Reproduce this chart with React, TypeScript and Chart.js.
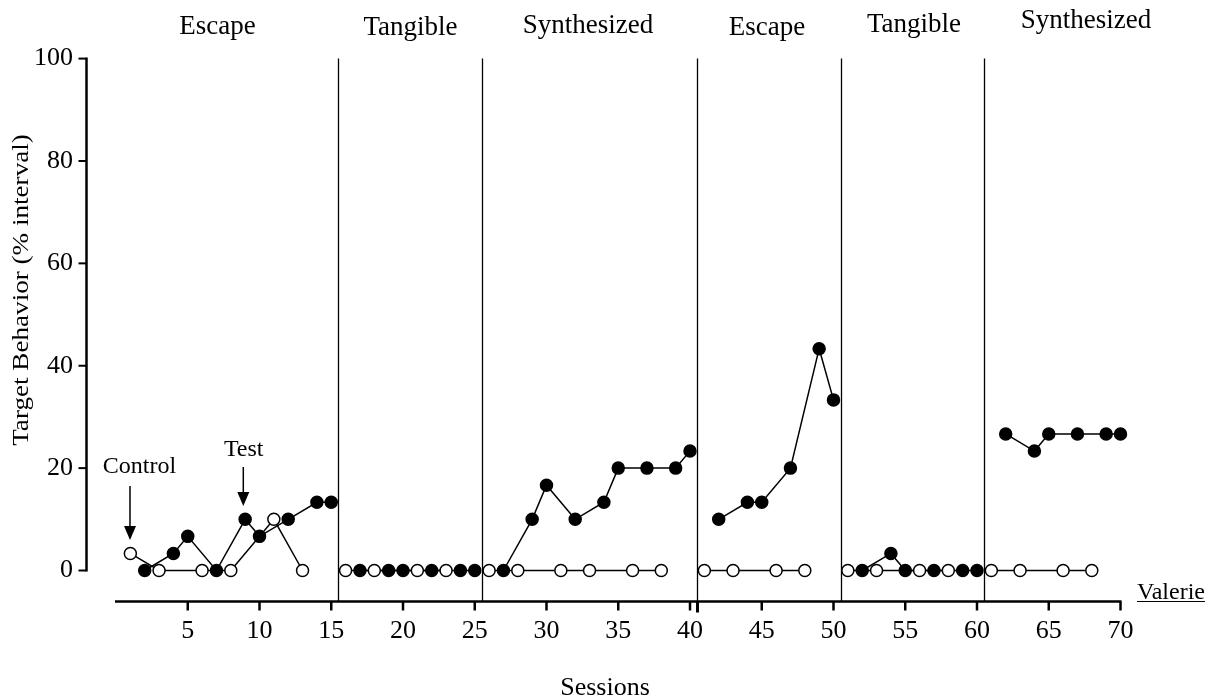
import React, { useEffect, useRef } from 'react';
import { Chart, registerables } from 'chart.js';

Chart.register(...registerables);

// ---- data ----
const phaseBreaks = [15.5, 25.5, 40.5, 50.5, 60.5];
const phaseLabels = ['Escape', 'Tangible', 'Synthesized', 'Escape', 'Tangible', 'Synthesized'];

const controlSessions = [1, 3, 6, 8, 11, 13, 16, 18, 21, 23, 26, 28, 31, 33, 36, 38, 41, 43, 46, 48, 51, 53, 56, 58, 61, 63, 66, 68];
const controlValues = [3.33, 0, 0, 0, 10, 0, 0, 0, 0, 0, 0, 0, 0, 0, 0, 0, 0, 0, 0, 0, 0, 0, 0, 0, 0, 0, 0, 0];

const testSessions = [2, 4, 5, 7, 9, 10, 12, 14, 15, 17, 19, 20, 22, 24, 25, 27, 29, 30, 32, 34, 35, 37, 39, 40, 42, 44, 45, 47, 49, 50, 52, 54, 55, 57, 59, 60, 62, 64, 65, 67, 69, 70];
const testValues = [0, 3.33, 6.67, 0, 10, 6.67, 10, 13.33, 13.33, 0, 0, 0, 0, 0, 0, 0, 10, 16.67, 10, 13.33, 20, 20, 20, 23.33, 10, 13.33, 13.33, 20, 43.33, 33.33, 0, 3.33, 0, 0, 0, 0, 26.67, 23.33, 26.67, 26.67, 26.67, 26.67];

const xTickStep = 5;
const yTickStep = 20;

const FONT = "'Liberation Serif', 'Times New Roman', serif";

function buildSeries(sessions: number[], values: number[]) {
  const out: { x: number; y: number | null }[] = [];
  for (let i = 0; i < sessions.length; i++) {
    if (i > 0) {
      const brk = phaseBreaks.find((b) => b > sessions[i - 1] && b < sessions[i]);
      if (brk !== undefined) out.push({ x: brk, y: null });
    }
    out.push({ x: sessions[i], y: values[i] });
  }
  return out;
}

// layout of annotation text (pixels)
const phaseLabelLayout = [
  { cx: 217.5, base: 34 },
  { cx: 410.5, base: 35 },
  { cx: 588, base: 33 },
  { cx: 767, base: 35 },
  { cx: 914, base: 32 },
  { cx: 1086, base: 28 },
];

const decorPlugin = {
  id: 'decor',
  beforeDatasetsDraw(chart: any) {
    const { ctx, chartArea, scales } = chart;
    const xs = scales.x;
    const ys = scales.y;
    const axisY = chartArea.bottom + 31;
    ctx.save();
    ctx.strokeStyle = '#000';
    ctx.lineWidth = 1.3;
    phaseBreaks.forEach((b) => {
      const px = Math.round(xs.getPixelForValue(b)) + 0.5;
      ctx.beginPath();
      ctx.moveTo(px, ys.getPixelForValue(100));
      ctx.lineTo(px, axisY);
      ctx.stroke();
    });
    ctx.restore();
  },
  afterDraw(chart: any) {
    const { ctx, chartArea, scales } = chart;
    const xs = scales.x;
    const ys = scales.y;
    const axisY = chartArea.bottom + 31;
    const axisX = chartArea.left - 29.5;
    ctx.save();
    ctx.strokeStyle = '#000';
    ctx.fillStyle = '#000';
    ctx.lineCap = 'butt';

    // y axis
    ctx.lineWidth = 2.5;
    ctx.beginPath();
    ctx.moveTo(axisX, ys.getPixelForValue(100) - 1);
    ctx.lineTo(axisX, ys.getPixelForValue(0) + 1);
    ctx.stroke();
    ys.ticks.forEach((t: any) => {
      const py = ys.getPixelForValue(t.value);
      ctx.lineWidth = 2;
      ctx.beginPath();
      ctx.moveTo(axisX - 8, py);
      ctx.lineTo(axisX, py);
      ctx.stroke();
    });

    // x axis
    ctx.lineWidth = 2.5;
    ctx.beginPath();
    ctx.moveTo(xs.getPixelForValue(0) - 1, axisY);
    ctx.lineTo(xs.getPixelForValue(70) + 1, axisY);
    ctx.stroke();
    xs.ticks.forEach((t: any) => {
      if (t.value === 0) return;
      const px = xs.getPixelForValue(t.value);
      ctx.lineWidth = 2.5;
      ctx.beginPath();
      ctx.moveTo(px, axisY);
      ctx.lineTo(px, axisY + 9);
      ctx.stroke();
    });
    // extension of the 40.5 phase line below the axis
    const p40 = Math.round(xs.getPixelForValue(phaseBreaks[2])) + 0.5;
    ctx.lineWidth = 3;
    ctx.beginPath();
    ctx.moveTo(p40, axisY);
    ctx.lineTo(p40, axisY + 11);
    ctx.stroke();

    // phase labels
    ctx.font = `27px ${FONT}`;
    ctx.textAlign = 'center';
    ctx.textBaseline = 'alphabetic';
    phaseLabels.forEach((lab, i) => {
      const l = phaseLabelLayout[i];
      ctx.fillText(lab, l.cx, l.base);
    });

    // y axis title
    ctx.save();
    ctx.font = `24px ${FONT}`;
    ctx.translate(27.5, 290);
    ctx.rotate(-Math.PI / 2);
    ctx.scale(1.13, 1);
    ctx.textAlign = 'center';
    ctx.fillText('Target Behavior (% interval)', 0, 0);
    ctx.restore();

    // x axis title
    ctx.font = `26px ${FONT}`;
    ctx.textAlign = 'center';
    ctx.fillText('Sessions', 605, 695);

    // Valerie
    ctx.font = `24px ${FONT}`;
    ctx.textAlign = 'left';
    ctx.fillText('Valerie', 1137, 599);
    const vw = ctx.measureText('Valerie').width;
    ctx.lineWidth = 1;
    ctx.beginPath();
    ctx.moveTo(1137, 601.5);
    ctx.lineTo(1137 + vw, 601.5);
    ctx.stroke();

    // Control / Test annotations with arrows
    ctx.font = `24px ${FONT}`;
    ctx.textAlign = 'center';
    ctx.fillText('Control', 139.5, 473);
    ctx.fillText('Test', 243.7, 456);
    const arrow = (x: number, y0: number, y1: number) => {
      ctx.lineWidth = 1.5;
      ctx.beginPath();
      ctx.moveTo(x, y0);
      ctx.lineTo(x, y1 - 13);
      ctx.stroke();
      ctx.beginPath();
      ctx.moveTo(x - 6, y1 - 14);
      ctx.lineTo(x + 6, y1 - 14);
      ctx.lineTo(x, y1);
      ctx.closePath();
      ctx.fill();
    };
    arrow(130, 486, 540);
    arrow(243.3, 467, 506);

    ctx.restore();
  },
};

export default function App() {
  const canvasRef = useRef<HTMLCanvasElement | null>(null);

  useEffect(() => {
    document.body.style.margin = '0';
    const canvas = canvasRef.current;
    if (!canvas) return;
    Chart.defaults.font.family = FONT;
    Chart.defaults.color = '#000';

    const chart = new Chart(canvas, {
      type: 'line',
      data: {
        datasets: [
          {
            label: 'Control',
            data: buildSeries(controlSessions, controlValues) as any,
            borderColor: '#000',
            backgroundColor: '#fff',
            borderWidth: 1.5,
            pointRadius: 6,
            pointBorderWidth: 1.5,
            pointBackgroundColor: '#fff',
            pointBorderColor: '#000',
            spanGaps: false,
            clip: false as any,
            tension: 0,
          },
          {
            label: 'Test',
            data: buildSeries(testSessions, testValues) as any,
            borderColor: '#000',
            backgroundColor: '#000',
            borderWidth: 1.5,
            pointRadius: 6,
            pointBorderWidth: 1.5,
            pointBackgroundColor: '#000',
            pointBorderColor: '#000',
            spanGaps: false,
            clip: false as any,
            tension: 0,
          },
        ],
      },
      options: {
        responsive: false,
        animation: false,
        events: [],
        layout: { padding: { top: 57, right: 92.5, left: 0, bottom: 0 } },
        plugins: {
          legend: { display: false },
          tooltip: { enabled: false },
        },
        scales: {
          x: {
            type: 'linear',
            min: 0,
            max: 70,
            grid: { display: false, drawTicks: false },
            border: { display: false },
            ticks: {
              stepSize: xTickStep,
              padding: 45,
              font: { size: 26, family: FONT },
              color: '#000',
              maxRotation: 0,
              autoSkip: false,
              callback: (v: any) => (v === 0 ? '' : String(v)),
            },
            afterFit: (scale: any) => {
              scale.height = 129.5;
            },
          },
          y: {
            type: 'linear',
            min: 0,
            max: 100,
            grid: { display: false, drawTicks: false },
            border: { display: false },
            ticks: {
              stepSize: yTickStep,
              padding: 43,
              font: { size: 26, family: FONT },
              color: '#000',
            },
            afterFit: (scale: any) => {
              scale.width = 116;
            },
          },
        },
      },
      plugins: [decorPlugin],
    });

    return () => {
      chart.destroy();
    };
  }, []);

  return (
    <div style={{ position: 'absolute', left: 0, top: 0, width: 1213, height: 700, background: '#fff' }}>
      <canvas ref={canvasRef} width={1213} height={700} />
    </div>
  );
}
